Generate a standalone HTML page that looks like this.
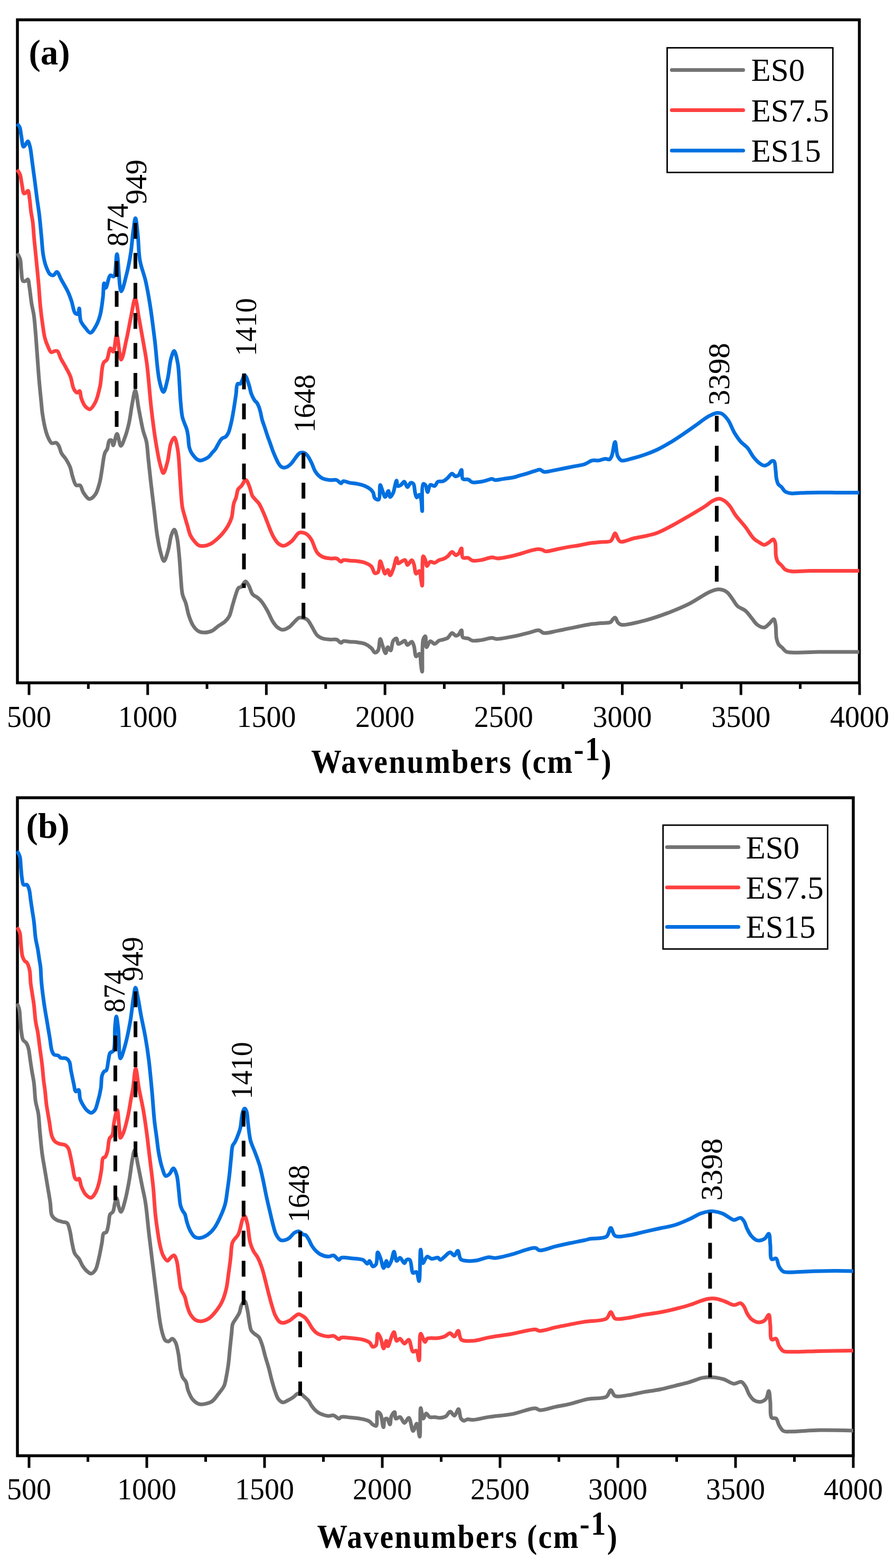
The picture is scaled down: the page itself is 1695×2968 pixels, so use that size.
<!DOCTYPE html>
<html><head><meta charset="utf-8"><title>FTIR spectra</title>
<style>html,body{margin:0;padding:0;background:#fff;} body{width:1695px;height:2968px;overflow:hidden;}</style>
</head><body>
<svg width="1695" height="2968" viewBox="0 0 1695 2968" style="display:block">
<rect width="1695" height="2968" fill="#fff"/>
<rect x="33" y="37.5" width="1594.5" height="1255.0" fill="none" stroke="#000" stroke-width="5.5"/>
<path d="M32.5,479.3 C32.5,479.3 36.9,486.2 38.2,490.7 C39.9,496.4 39.4,504.4 40.3,511.3 C41.2,518.2 40.8,529.6 43.4,531.9 C44.7,533.0 47.0,532.4 48.5,531.9 C50.1,531.4 51.6,528.4 52.7,528.8 C54.6,529.5 54.8,538.2 55.8,544.2 C57.2,552.7 58.4,565.8 59.9,575.1 C61.2,582.7 62.9,588.2 64.0,595.8 C65.4,605.0 66.1,615.8 67.1,626.7 C68.2,638.8 68.9,651.0 70.0,665.0 C71.3,682.1 72.8,704.9 74.3,722.0 C75.5,736.0 76.9,748.8 78.0,760.0 C78.9,768.9 79.2,775.5 80.5,784.0 C82.0,793.7 84.3,806.7 86.6,815.0 C88.2,820.8 89.7,825.4 91.8,829.6 C93.6,833.2 95.3,837.7 98.0,838.9 C100.3,840.0 104.0,837.1 106.2,838.0 C108.4,838.9 109.9,841.4 111.4,844.0 C113.5,847.6 114.2,853.8 116.5,858.0 C118.7,862.1 122.2,864.9 124.8,869.0 C127.7,873.7 130.9,879.3 133.0,884.7 C135.0,890.0 135.4,895.7 137.2,901.2 C139.1,907.0 141.1,916.5 144.4,918.7 C146.4,920.1 149.6,917.4 151.6,918.7 C154.5,920.5 155.0,927.9 157.8,932.1 C160.8,936.6 165.1,944.1 169.1,944.5 C172.7,944.9 177.3,940.3 180.4,936.2 C184.4,930.9 186.6,921.2 188.7,913.6 C190.7,906.1 191.5,898.8 192.8,890.9 C194.2,882.3 195.6,870.3 196.9,864.1 C197.6,860.7 198.0,858.8 199.0,856.4 C200.0,854.1 201.8,852.7 203.0,850.0 C204.8,845.9 204.9,835.5 207.2,833.7 C208.3,832.8 210.2,832.9 211.3,833.7 C213.0,834.9 213.2,843.0 214.4,843.0 C216.3,843.0 219.2,821.3 221.6,821.3 C224.0,821.3 226.2,843.8 228.9,844.0 C231.1,844.2 233.8,835.3 236.0,829.6 C239.0,821.7 242.0,811.0 244.3,800.7 C246.9,789.2 248.3,774.8 250.5,763.7 C252.3,754.6 254.3,739.0 256.2,739.0 C258.4,739.0 260.4,761.9 262.8,774.0 C265.4,787.1 268.2,803.7 271.0,815.0 C273.0,823.2 275.7,827.9 277.3,835.8 C279.3,845.7 279.7,858.0 281.0,870.0 C282.4,883.2 283.8,896.9 285.5,911.5 C287.4,927.7 289.6,945.8 291.7,963.0 C293.8,980.2 295.5,999.5 297.9,1014.5 C299.8,1026.2 301.6,1036.9 304.1,1045.5 C306.0,1052.0 308.3,1062.0 310.6,1062.0 C313.1,1062.0 316.3,1048.9 318.5,1041.3 C321.1,1032.6 322.1,1019.5 324.7,1012.5 C326.3,1008.2 328.6,1002.3 330.2,1002.5 C332.2,1002.7 333.9,1011.7 335.3,1018.0 C337.4,1027.2 338.3,1040.8 339.5,1053.0 C340.8,1066.2 341.4,1081.5 342.5,1094.2 C343.5,1105.2 343.6,1116.5 345.6,1125.1 C347.1,1131.6 349.9,1135.5 351.8,1141.6 C354.1,1149.0 355.4,1158.8 358.0,1166.4 C360.3,1173.1 362.8,1179.9 366.2,1184.9 C369.1,1189.2 372.7,1193.2 376.5,1195.2 C379.7,1196.9 383.1,1197.3 386.8,1197.3 C391.2,1197.3 396.9,1196.2 401.3,1194.2 C405.8,1192.1 409.4,1187.8 413.6,1184.9 C417.7,1182.0 422.5,1179.9 426.0,1176.7 C429.3,1173.7 432.0,1170.7 434.2,1166.4 C437.1,1160.9 438.3,1152.7 440.4,1145.8 C442.5,1138.9 444.5,1131.1 446.6,1125.1 C448.3,1120.4 449.5,1115.1 451.8,1112.8 C453.3,1111.3 455.2,1112.0 456.9,1110.7 C459.6,1108.7 462.6,1100.4 465.1,1100.4 C467.3,1100.4 469.3,1105.3 471.3,1108.7 C473.9,1113.1 475.2,1121.2 478.5,1125.1 C481.1,1128.2 484.9,1128.9 487.8,1131.3 C490.8,1133.7 493.4,1136.2 496.1,1139.6 C499.6,1144.0 503.1,1150.1 506.4,1156.0 C510.0,1162.4 513.2,1171.1 516.7,1176.7 C519.4,1180.9 521.7,1184.4 524.9,1187.0 C527.9,1189.4 531.6,1192.0 535.2,1192.1 C539.1,1192.2 543.9,1189.5 547.6,1187.0 C551.5,1184.4 554.6,1179.8 557.9,1176.7 C560.7,1174.0 563.1,1170.6 566.1,1169.5 C568.7,1168.5 571.7,1168.9 574.4,1169.5 C577.2,1170.2 580.2,1171.4 582.6,1173.6 C585.5,1176.2 587.4,1180.7 590.0,1184.9 C593.3,1190.1 596.5,1198.4 600.6,1202.4 C603.7,1205.5 607.0,1207.1 610.9,1208.5 C615.2,1210.0 620.7,1210.3 625.3,1210.6 C629.6,1210.9 634.1,1209.4 637.7,1210.6 C640.9,1211.7 643.7,1216.8 646.0,1216.8 C647.6,1216.8 648.2,1214.2 650.0,1213.7 C652.9,1212.8 658.1,1214.4 662.4,1214.7 C667.0,1215.1 672.0,1215.1 676.8,1215.8 C681.6,1216.5 686.8,1216.9 691.3,1218.8 C695.8,1220.7 700.4,1224.1 703.6,1227.1 C706.3,1229.6 707.5,1234.9 709.8,1235.3 C711.7,1235.6 714.4,1233.6 716.0,1231.2 C718.7,1227.1 718.5,1209.7 720.1,1209.6 C721.3,1209.5 722.7,1216.8 724.2,1220.9 C726.0,1225.7 728.6,1236.4 730.4,1236.4 C731.9,1236.4 732.7,1225.3 734.5,1225.0 C736.0,1224.7 738.2,1231.5 739.7,1231.2 C742.0,1230.7 742.1,1216.5 744.8,1212.7 C746.5,1210.4 749.5,1208.0 751.0,1208.5 C752.8,1209.1 752.1,1217.9 754.1,1218.8 C755.8,1219.6 759.1,1216.9 761.3,1215.8 C763.2,1214.8 764.9,1212.3 766.5,1212.7 C768.5,1213.2 769.4,1220.5 771.6,1220.9 C773.9,1221.3 777.8,1214.2 779.9,1214.7 C781.9,1215.2 782.8,1219.6 784.0,1223.0 C785.7,1228.0 785.6,1241.6 788.1,1242.5 C789.7,1243.1 792.8,1236.8 794.3,1237.4 C796.9,1238.4 796.4,1253.8 797.4,1260.0 C798.1,1264.5 798.9,1271.4 799.5,1271.4 C800.8,1271.3 798.4,1220.2 801.5,1210.6 C802.6,1207.2 804.6,1204.2 805.6,1204.4 C807.3,1204.8 805.7,1224.5 807.7,1225.0 C809.3,1225.4 812.1,1214.3 814.9,1213.7 C817.3,1213.2 820.4,1218.9 823.1,1218.8 C825.9,1218.7 828.5,1214.1 831.4,1212.7 C834.0,1211.5 836.9,1211.5 839.6,1210.6 C842.4,1209.7 845.3,1209.3 847.9,1207.5 C850.9,1205.4 853.3,1198.5 856.1,1198.2 C858.5,1197.9 861.0,1203.1 863.3,1203.4 C865.1,1203.6 866.9,1202.6 868.5,1201.3 C870.6,1199.6 872.7,1192.7 874.0,1193.0 C875.5,1193.3 874.0,1203.9 876.5,1206.4 C878.6,1208.6 883.4,1207.4 886.5,1208.5 C889.4,1209.5 891.4,1211.9 894.7,1212.6 C899.2,1213.5 905.4,1212.3 911.2,1211.6 C917.7,1210.8 926.5,1207.4 931.8,1207.5 C935.2,1207.6 936.6,1209.3 940.1,1209.5 C945.8,1209.8 955.4,1207.6 962.7,1206.4 C969.7,1205.2 976.5,1203.8 983.3,1202.3 C990.2,1200.8 997.4,1198.8 1003.9,1197.2 C1009.7,1195.7 1015.8,1192.4 1020.4,1193.0 C1024.1,1193.5 1025.7,1197.5 1029.7,1198.2 C1036.0,1199.3 1047.4,1195.6 1055.5,1194.1 C1062.8,1192.8 1069.2,1191.3 1076.1,1189.9 C1083.0,1188.5 1089.8,1187.2 1096.7,1185.8 C1103.6,1184.4 1110.4,1182.7 1117.3,1181.7 C1124.1,1180.7 1131.2,1180.3 1137.9,1179.6 C1144.2,1178.9 1152.7,1179.7 1156.4,1177.6 C1158.6,1176.4 1159.0,1173.8 1160.5,1172.4 C1161.9,1171.1 1163.8,1168.8 1165.2,1169.1 C1167.1,1169.5 1167.9,1175.7 1170.0,1178.0 C1171.8,1180.0 1173.1,1181.8 1176.5,1182.5 C1184.6,1184.3 1207.2,1178.0 1221.8,1174.3 C1236.0,1170.7 1249.4,1166.0 1263.0,1160.9 C1276.8,1155.7 1290.7,1150.1 1304.2,1143.4 C1318.2,1136.5 1334.6,1124.1 1345.5,1119.7 C1352.0,1117.1 1356.6,1115.4 1361.9,1115.6 C1366.9,1115.8 1372.3,1117.8 1376.4,1120.7 C1380.6,1123.6 1383.3,1128.7 1386.7,1133.1 C1390.2,1137.7 1392.8,1143.7 1397.0,1147.5 C1401.1,1151.2 1407.1,1152.2 1411.4,1155.8 C1416.0,1159.6 1419.9,1165.6 1423.8,1170.2 C1427.4,1174.4 1430.0,1179.6 1434.1,1182.5 C1438.0,1185.3 1443.5,1188.3 1447.5,1187.7 C1451.3,1187.1 1454.5,1182.5 1457.6,1179.8 C1460.5,1177.3 1463.5,1171.6 1465.4,1172.0 C1467.3,1172.4 1468.0,1178.1 1468.8,1182.4 C1470.1,1189.0 1469.2,1201.4 1470.6,1208.3 C1471.6,1213.1 1472.9,1217.3 1474.9,1220.3 C1476.5,1222.7 1478.8,1223.5 1480.9,1225.5 C1483.4,1227.8 1485.6,1231.7 1488.7,1233.3 C1491.7,1234.8 1494.2,1234.7 1499.0,1235.0 C1509.6,1235.8 1531.8,1234.3 1550.8,1234.1 C1573.9,1233.9 1627.5,1234.1 1627.5,1234.1" fill="none" stroke="#737373" stroke-width="7" stroke-linejoin="round" stroke-linecap="butt"/>
<path d="M32.5,321.0 C32.5,321.0 36.8,327.3 38.2,331.3 C39.9,336.0 40.1,342.2 41.3,347.8 C42.5,353.8 43.2,365.2 45.5,366.3 C46.6,366.8 48.4,365.1 49.6,364.2 C50.9,363.3 52.1,360.7 53.0,361.0 C54.6,361.5 55.0,369.2 55.8,374.5 C57.0,381.9 57.7,393.2 58.8,401.3 C59.8,408.1 61.1,413.0 62.0,420.0 C63.1,428.8 63.5,439.1 64.5,450.0 C65.7,463.1 67.4,478.7 68.8,493.0 C70.2,507.3 71.7,521.6 73.0,536.0 C74.3,550.4 75.0,565.8 76.4,579.4 C77.6,591.6 79.1,603.3 80.7,614.0 C82.0,623.2 83.1,632.4 85.0,639.8 C86.5,645.6 88.3,650.3 90.4,654.9 C92.3,659.2 94.2,665.7 96.9,666.7 C98.8,667.4 101.2,664.9 103.3,664.6 C105.2,664.3 107.1,663.6 108.7,664.6 C111.4,666.3 112.7,673.7 115.2,678.6 C118.0,684.1 121.8,690.0 124.9,695.8 C127.9,701.5 131.1,706.7 133.5,713.0 C136.2,720.2 137.0,731.6 140.0,736.8 C141.8,740.0 144.5,743.2 146.5,743.3 C148.0,743.4 149.7,739.6 150.8,740.0 C152.7,740.7 152.3,749.3 154.0,754.0 C155.8,759.1 158.3,765.7 161.5,769.2 C164.0,771.9 167.4,775.1 170.2,774.6 C173.9,773.9 178.0,766.4 181.0,760.5 C185.0,752.6 187.2,741.4 189.6,730.4 C192.4,717.3 192.0,694.7 196.0,687.0 C197.8,683.5 200.6,683.8 202.5,680.8 C205.4,676.0 206.4,659.7 209.0,659.2 C210.6,658.9 212.8,666.1 214.4,665.7 C217.5,664.9 218.7,634.0 221.0,634.0 C223.7,634.0 226.3,680.7 229.5,680.8 C232.4,680.9 236.2,656.8 239.2,644.0 C242.4,630.3 244.9,614.7 247.8,601.0 C250.5,588.4 253.5,565.0 256.0,565.0 C258.5,565.0 260.6,588.2 263.0,601.0 C265.7,615.7 268.9,633.4 271.5,648.4 C273.9,662.0 275.9,671.7 278.0,687.2 C281.1,710.3 283.5,746.8 286.6,773.5 C289.3,796.6 292.1,818.9 295.3,838.2 C297.9,854.1 300.8,870.9 303.9,881.3 C305.7,887.4 307.5,895.5 309.5,895.5 C311.9,895.5 315.1,881.8 317.3,873.5 C320.0,863.4 320.6,847.1 323.7,839.0 C325.5,834.2 328.3,827.9 330.2,828.2 C332.9,828.6 335.0,842.3 336.7,851.9 C339.2,866.1 339.6,887.8 341.0,905.8 C342.4,923.8 343.1,946.5 345.3,959.7 C346.6,967.5 348.4,972.0 350.0,978.0 C351.6,983.8 353.3,989.3 355.0,995.0 C356.7,1000.7 357.9,1007.2 360.0,1012.0 C361.8,1015.9 363.6,1018.9 366.2,1022.1 C369.0,1025.7 372.9,1030.6 376.5,1032.4 C379.2,1033.7 381.7,1033.7 384.8,1033.5 C389.0,1033.2 394.6,1031.7 399.2,1029.3 C404.3,1026.7 409.3,1022.0 413.6,1018.0 C417.6,1014.3 421.0,1010.4 424.2,1006.3 C427.3,1002.4 430.1,998.4 432.5,994.0 C435.0,989.5 437.1,985.2 438.7,979.5 C440.8,972.0 441.0,959.5 442.8,952.7 C444.0,948.4 445.6,946.3 446.9,942.4 C448.4,937.6 448.8,930.0 451.0,926.0 C452.6,923.2 455.1,922.3 457.2,919.8 C459.9,916.7 463.0,908.2 465.5,908.4 C468.1,908.6 470.7,917.0 472.7,921.8 C474.8,926.9 475.5,934.0 477.8,938.3 C479.5,941.6 481.9,943.6 484.0,946.0 C486.0,948.3 488.2,949.8 490.2,952.7 C493.1,956.8 495.8,963.3 498.4,969.2 C501.3,975.6 503.8,982.6 506.7,989.8 C509.9,997.7 513.1,1007.5 517.0,1014.5 C520.1,1020.2 523.4,1025.9 527.3,1029.0 C530.4,1031.4 533.9,1033.4 537.6,1033.1 C542.1,1032.8 547.5,1028.5 552.0,1024.8 C557.2,1020.6 561.8,1010.5 566.4,1008.4 C569.2,1007.1 572.1,1007.8 574.7,1008.4 C577.3,1009.0 579.7,1010.2 582.0,1012.0 C584.9,1014.3 587.4,1017.7 590.0,1022.0 C593.7,1028.1 596.3,1040.3 600.6,1045.8 C603.7,1049.7 606.9,1052.1 610.9,1054.0 C615.1,1056.0 620.7,1056.6 625.3,1057.1 C629.6,1057.6 634.1,1055.9 637.7,1057.1 C640.9,1058.2 643.7,1063.3 646.0,1063.3 C647.6,1063.3 648.2,1060.7 650.0,1060.2 C652.9,1059.3 658.1,1060.9 662.4,1061.2 C667.0,1061.5 672.0,1061.5 676.8,1062.2 C681.6,1062.9 686.8,1063.6 691.3,1065.3 C695.7,1067.0 700.5,1069.2 703.6,1072.5 C706.6,1075.8 707.2,1083.8 709.8,1084.9 C711.6,1085.6 714.4,1084.6 716.0,1082.8 C718.9,1079.5 718.4,1062.4 720.1,1062.2 C721.3,1062.1 722.8,1068.8 724.2,1072.5 C725.8,1076.7 727.4,1085.7 729.4,1085.9 C730.9,1086.1 733.0,1078.5 734.5,1078.7 C736.2,1078.9 737.1,1088.9 738.7,1089.0 C740.5,1089.1 742.9,1081.4 744.8,1076.7 C747.1,1070.8 749.3,1056.1 751.0,1056.1 C752.2,1056.1 752.2,1065.6 754.1,1066.4 C755.8,1067.1 758.9,1063.3 761.3,1062.2 C763.4,1061.3 765.9,1059.5 767.5,1060.2 C769.5,1061.1 769.7,1069.2 771.6,1069.5 C773.7,1069.8 777.8,1059.9 779.9,1060.2 C781.7,1060.4 782.8,1065.1 784.0,1068.4 C785.7,1073.1 785.7,1085.1 788.1,1085.9 C789.7,1086.4 792.8,1080.3 794.3,1080.8 C796.5,1081.6 796.5,1092.3 797.4,1097.3 C798.2,1101.4 798.9,1108.6 799.5,1108.6 C800.8,1108.5 798.8,1053.7 801.5,1053.0 C802.6,1052.7 804.5,1057.4 805.6,1060.2 C807.0,1063.5 807.1,1071.2 808.7,1071.5 C810.2,1071.8 812.3,1064.2 814.9,1063.3 C817.2,1062.5 820.4,1065.7 823.1,1065.3 C826.0,1064.9 828.5,1061.4 831.4,1060.2 C834.1,1059.1 836.9,1059.2 839.6,1058.1 C842.5,1056.9 845.3,1055.1 847.9,1053.0 C850.8,1050.7 853.4,1044.8 856.1,1044.7 C858.5,1044.6 861.0,1050.7 863.3,1050.9 C865.1,1051.1 866.9,1049.4 868.5,1047.8 C870.6,1045.6 872.7,1037.8 874.0,1038.0 C875.6,1038.3 873.6,1052.9 876.5,1055.5 C878.7,1057.5 883.4,1055.0 886.5,1056.0 C889.5,1056.9 891.3,1060.2 894.7,1061.1 C899.1,1062.2 905.4,1061.0 911.2,1060.1 C917.7,1059.1 926.1,1055.1 931.8,1055.0 C935.8,1054.9 938.1,1056.9 942.1,1057.0 C947.8,1057.1 955.9,1055.3 962.7,1053.9 C969.6,1052.5 976.5,1050.7 983.3,1048.8 C990.2,1046.9 997.6,1044.2 1003.9,1042.6 C1009.1,1041.3 1014.2,1039.7 1018.4,1039.5 C1021.5,1039.4 1024.1,1039.8 1026.6,1040.5 C1028.9,1041.2 1030.0,1043.2 1032.8,1043.6 C1037.9,1044.3 1048.1,1040.9 1055.5,1039.5 C1062.5,1038.2 1069.2,1036.6 1076.1,1035.4 C1083.0,1034.2 1089.8,1033.5 1096.7,1032.3 C1103.6,1031.1 1110.4,1029.2 1117.3,1028.2 C1124.1,1027.2 1131.2,1026.8 1137.9,1026.1 C1144.2,1025.4 1152.7,1026.4 1156.4,1024.1 C1158.7,1022.7 1159.2,1020.2 1160.5,1017.9 C1162.0,1015.4 1163.0,1009.7 1164.8,1009.6 C1167.3,1009.5 1169.4,1022.9 1174.4,1024.9 C1180.4,1027.4 1190.4,1021.2 1200.0,1019.0 C1212.4,1016.2 1228.8,1014.3 1242.4,1009.5 C1256.0,1004.7 1270.4,996.0 1281.6,990.0 C1290.2,985.4 1296.1,981.8 1304.2,977.0 C1313.7,971.4 1326.9,963.8 1335.2,958.4 C1341.0,954.6 1344.8,950.5 1349.6,948.1 C1353.7,946.0 1358.0,943.9 1361.9,944.0 C1365.5,944.1 1369.0,946.0 1372.2,948.1 C1375.9,950.5 1379.3,954.4 1382.5,958.4 C1386.2,963.1 1388.6,969.1 1392.8,974.9 C1397.9,981.9 1405.5,989.6 1411.4,997.1 C1417.2,1004.5 1422.5,1014.6 1427.9,1019.8 C1431.5,1023.3 1435.1,1025.1 1438.6,1027.1 C1441.6,1028.8 1444.4,1031.4 1447.3,1031.4 C1450.2,1031.4 1453.1,1028.8 1455.9,1027.1 C1458.8,1025.3 1462.4,1020.5 1464.5,1021.0 C1466.2,1021.4 1467.1,1024.2 1468.0,1027.1 C1469.7,1032.6 1468.4,1046.4 1469.7,1053.0 C1470.5,1057.3 1471.3,1060.4 1473.1,1063.3 C1474.8,1066.1 1477.7,1067.8 1480.0,1070.2 C1482.4,1072.7 1484.0,1076.1 1487.0,1078.0 C1490.2,1080.0 1493.9,1080.8 1499.0,1081.4 C1507.5,1082.5 1519.2,1080.8 1533.5,1080.6 C1557.1,1080.3 1627.5,1080.6 1627.5,1080.6" fill="none" stroke="#FF4040" stroke-width="7" stroke-linejoin="round" stroke-linecap="butt"/>
<path d="M32.5,234.4 C32.5,234.4 36.0,237.9 37.2,240.6 C39.0,244.6 39.2,251.2 40.3,257.0 C41.6,263.5 42.2,277.0 44.4,277.7 C45.5,278.0 47.2,275.2 48.5,273.6 C50.0,271.8 51.4,267.3 52.7,267.4 C54.3,267.6 55.6,273.3 56.8,277.7 C58.7,284.8 59.6,296.3 61.0,306.5 C62.6,318.1 64.4,331.6 66.0,343.6 C67.5,354.9 68.8,366.0 70.2,376.6 C71.5,386.6 73.0,395.0 74.3,405.5 C75.8,418.0 77.1,433.5 78.4,446.7 C79.6,459.0 80.1,471.9 81.8,482.3 C83.2,490.5 84.7,497.6 87.1,504.0 C89.2,509.6 91.6,516.4 94.7,519.0 C96.7,520.7 99.2,521.7 101.2,521.2 C103.5,520.6 105.5,514.4 107.6,514.7 C110.5,515.1 113.2,524.2 116.3,529.8 C120.2,536.8 125.8,546.1 129.2,553.5 C132.0,559.6 133.6,564.7 135.7,570.8 C138.0,577.5 139.0,588.9 142.1,592.3 C143.7,594.0 146.2,595.2 147.5,594.5 C149.3,593.6 149.3,583.7 150.1,583.7 C151.2,583.8 150.5,600.9 152.9,607.4 C154.8,612.7 158.3,616.5 161.5,620.4 C164.5,624.0 168.1,630.2 171.3,630.0 C174.6,629.8 178.2,623.0 181.0,618.2 C184.5,612.3 187.4,604.8 189.6,596.6 C192.3,586.6 193.7,572.7 195.0,562.0 C196.1,552.8 195.7,536.5 197.1,536.3 C197.9,536.2 199.1,544.9 200.4,544.9 C202.6,544.9 205.3,523.0 209.0,521.2 C210.9,520.3 213.7,524.4 215.5,523.3 C219.9,520.5 219.5,481.0 221.5,481.0 C224.1,481.0 225.5,551.0 229.5,551.4 C232.2,551.7 236.3,532.3 239.2,521.2 C242.6,508.2 245.6,492.0 247.8,478.0 C249.8,465.0 250.4,451.6 252.0,440.0 C253.4,430.2 255.1,413.0 256.5,413.0 C258.1,413.0 259.7,433.2 261.0,445.0 C262.6,459.4 262.3,478.0 265.0,493.1 C267.5,506.9 272.7,518.3 275.8,532.0 C279.2,546.9 281.8,562.3 284.5,579.4 C287.6,599.3 290.3,621.7 293.1,644.1 C296.1,668.3 297.7,702.0 301.7,719.6 C303.9,729.4 306.9,742.0 309.5,742.0 C312.1,742.0 315.1,727.2 317.3,718.2 C320.1,706.9 320.9,689.2 323.7,679.4 C325.5,673.1 327.8,664.2 329.8,664.3 C332.2,664.4 335.1,679.4 336.7,688.0 C338.5,697.8 338.7,708.7 339.5,720.0 C340.4,732.6 340.9,747.6 342.0,760.0 C343.0,770.7 343.7,782.2 345.5,790.0 C346.7,795.2 348.6,798.9 350.0,802.8 C351.2,806.1 352.5,808.6 353.5,812.0 C354.7,816.0 355.4,820.5 356.2,825.5 C357.1,831.6 357.0,840.4 358.3,846.0 C359.2,850.0 360.5,853.1 362.0,856.0 C363.3,858.5 364.8,860.4 366.5,862.5 C368.2,864.6 369.9,866.9 372.0,868.5 C374.0,870.0 376.5,871.6 378.9,871.8 C381.5,872.0 384.3,870.6 387.0,869.5 C389.9,868.3 393.0,866.6 395.4,864.6 C397.6,862.7 399.0,860.3 401.0,858.0 C403.1,855.5 405.8,853.0 407.8,850.2 C409.8,847.4 411.3,844.0 413.0,841.0 C414.7,838.2 416.3,834.8 418.0,832.7 C419.3,831.1 420.5,829.9 422.0,829.0 C423.3,828.2 424.9,828.5 426.3,827.5 C428.4,826.0 430.9,822.4 432.5,819.3 C434.2,816.0 435.0,811.8 436.0,808.0 C437.0,804.2 437.8,801.1 438.7,796.6 C440.0,790.4 441.5,781.9 442.8,774.0 C444.2,765.5 445.6,755.6 446.9,747.2 C448.0,739.9 447.4,728.8 450.0,726.5 C451.3,725.4 453.7,727.3 455.1,726.5 C456.9,725.4 457.7,721.6 459.0,719.0 C460.4,716.1 461.9,710.1 463.4,710.0 C464.4,709.9 465.6,712.3 466.5,714.0 C467.7,716.2 468.6,719.4 469.6,722.4 C470.8,725.9 472.0,730.2 473.0,734.0 C474.0,737.7 474.4,741.3 475.8,745.0 C477.3,749.1 479.7,754.2 481.9,757.4 C483.5,759.8 485.6,760.9 487.0,763.0 C488.4,765.1 489.2,767.2 490.2,769.8 C491.4,773.0 492.5,777.1 493.5,781.0 C494.6,785.3 495.2,790.0 496.4,794.5 C497.7,799.0 499.4,803.2 501.0,808.0 C502.8,813.4 504.8,820.0 506.7,825.5 C508.5,830.6 510.3,835.2 512.0,840.0 C513.7,844.8 515.3,849.8 517.0,854.3 C518.6,858.4 520.3,862.2 522.0,866.0 C523.7,869.7 525.4,874.0 527.3,877.0 C528.8,879.4 530.2,881.6 532.0,883.0 C533.6,884.2 535.6,885.1 537.6,885.2 C539.9,885.3 542.7,884.3 545.0,883.0 C547.5,881.6 549.9,879.3 552.0,877.0 C554.2,874.6 556.0,871.7 558.0,869.0 C560.1,866.2 562.5,862.5 564.4,860.5 C565.7,859.1 566.6,858.2 568.0,857.5 C569.4,856.8 571.1,856.4 572.6,856.4 C574.1,856.4 575.6,856.7 577.0,857.5 C578.9,858.5 580.7,860.4 582.5,862.7 C585.1,866.1 588.0,872.0 590.3,876.8 C592.6,881.5 594.2,887.2 596.5,891.2 C598.4,894.5 600.3,897.1 602.7,899.5 C605.1,901.9 607.6,904.1 610.9,905.6 C614.9,907.4 620.7,908.2 625.3,908.7 C629.6,909.2 634.1,907.5 637.7,908.7 C640.9,909.8 643.8,915.1 646.0,914.9 C647.6,914.8 648.1,911.3 650.0,910.8 C652.9,910.0 658.1,913.1 662.4,913.9 C667.0,914.8 672.0,914.9 676.8,915.9 C681.7,916.9 687.0,918.1 691.3,920.0 C695.2,921.7 698.9,923.9 701.6,926.2 C703.8,928.1 705.4,929.9 706.7,932.4 C708.2,935.3 707.8,940.5 709.8,942.7 C711.5,944.6 715.2,946.8 717.0,945.8 C720.3,943.9 718.4,918.2 720.1,918.0 C721.2,917.9 722.7,924.7 724.2,928.3 C725.8,932.2 727.5,940.6 729.4,940.7 C731.3,940.8 734.0,929.1 735.6,929.3 C737.1,929.5 737.1,940.4 738.7,940.7 C740.2,941.0 743.3,935.6 744.8,932.4 C746.5,928.8 746.8,923.9 747.9,920.0 C748.9,916.4 750.1,909.8 751.0,909.8 C751.9,909.8 751.3,919.0 753.1,920.0 C754.5,920.8 757.4,919.2 759.3,918.0 C761.5,916.6 763.6,911.6 765.5,911.8 C767.7,912.1 769.5,922.0 771.6,922.1 C773.6,922.2 775.6,914.5 777.8,913.9 C779.4,913.4 781.7,914.3 783.0,915.9 C785.3,918.6 784.9,927.7 786.1,932.4 C787.0,936.0 787.7,941.3 789.2,941.7 C790.5,942.0 793.0,936.2 794.3,936.5 C795.8,936.8 796.6,941.3 797.4,944.8 C798.7,950.4 798.9,967.5 799.5,967.5 C800.4,967.5 797.8,918.2 801.5,916.0 C802.6,915.3 804.4,916.7 805.6,918.0 C807.6,920.4 808.3,931.4 809.8,931.4 C811.4,931.4 812.1,919.4 814.9,918.0 C817.0,916.9 820.8,920.8 823.1,920.0 C825.7,919.1 826.6,913.3 829.3,911.8 C832.1,910.3 836.5,912.0 839.6,910.8 C842.7,909.6 845.2,906.9 847.9,904.6 C850.7,902.1 853.5,896.5 856.1,896.4 C858.3,896.3 860.1,901.1 862.3,901.5 C864.3,901.9 866.7,901.0 868.5,899.5 C870.8,897.6 872.7,889.3 874.0,889.5 C875.6,889.8 873.7,903.9 876.5,906.6 C878.7,908.7 883.4,906.5 886.5,907.6 C889.5,908.6 891.3,911.9 894.7,912.8 C899.1,913.9 906.1,912.6 911.2,911.8 C915.7,911.1 919.9,909.6 923.6,908.7 C926.6,907.9 929.3,906.5 931.8,906.6 C934.0,906.7 935.5,908.5 938.0,908.7 C941.8,909.0 947.2,907.4 952.4,906.6 C958.7,905.7 967.3,904.8 973.0,903.5 C977.1,902.6 979.6,901.5 983.3,900.4 C987.7,899.1 992.8,897.8 997.8,896.3 C1003.1,894.7 1009.6,892.4 1014.2,891.1 C1017.4,890.2 1019.8,888.8 1022.5,889.1 C1025.3,889.4 1027.5,892.7 1030.7,893.2 C1034.8,893.9 1040.0,892.0 1045.2,891.1 C1051.5,890.0 1058.9,888.4 1065.8,887.0 C1072.7,885.6 1079.5,884.3 1086.4,882.9 C1093.3,881.5 1100.9,880.9 1107.0,878.8 C1112.4,877.0 1116.6,872.7 1121.4,871.6 C1125.6,870.6 1129.7,872.1 1133.8,871.6 C1137.9,871.1 1142.4,868.7 1146.1,868.5 C1149.1,868.3 1152.3,870.5 1154.4,869.5 C1156.4,868.6 1157.2,866.2 1158.5,863.3 C1160.9,857.6 1162.9,836.5 1164.8,836.5 C1166.7,836.5 1166.8,856.9 1169.7,863.1 C1171.6,867.1 1173.5,870.4 1177.0,871.6 C1181.6,873.2 1189.7,869.6 1196.5,868.0 C1204.2,866.1 1212.8,863.5 1220.8,860.7 C1229.0,857.9 1237.1,854.8 1245.1,851.0 C1253.3,847.1 1261.4,842.4 1269.4,837.6 C1277.6,832.7 1285.6,827.2 1293.7,821.8 C1301.8,816.3 1309.9,810.5 1318.0,804.8 C1326.1,799.1 1335.0,791.8 1342.3,787.8 C1347.6,784.9 1352.4,782.3 1356.9,781.7 C1360.4,781.2 1363.5,781.4 1366.7,782.9 C1370.9,784.9 1375.1,789.9 1378.8,795.0 C1383.4,801.4 1386.6,812.1 1391.0,819.4 C1394.8,825.7 1398.8,831.6 1403.1,836.4 C1406.9,840.7 1411.5,842.9 1415.3,847.3 C1419.7,852.4 1423.2,860.4 1427.4,865.6 C1431.0,870.0 1434.9,874.3 1438.6,877.0 C1441.5,879.1 1444.4,881.2 1447.3,881.3 C1450.2,881.4 1453.4,879.3 1455.9,877.8 C1458.2,876.4 1459.9,873.1 1461.9,872.6 C1463.4,872.2 1465.1,872.4 1466.2,873.5 C1468.3,875.7 1468.1,883.7 1468.8,889.0 C1469.6,894.6 1469.5,901.3 1470.6,906.3 C1471.4,910.2 1472.2,913.9 1474.0,916.6 C1475.5,918.9 1478.0,919.7 1480.0,921.8 C1482.3,924.2 1484.0,928.4 1487.0,930.4 C1490.2,932.5 1494.6,933.4 1499.0,933.9 C1504.2,934.5 1509.5,933.3 1516.3,933.0 C1525.8,932.6 1539.3,932.3 1550.8,932.2 C1562.3,932.1 1573.2,932.4 1585.3,932.5 C1598.7,932.6 1627.5,932.5 1627.5,932.5" fill="none" stroke="#0070E0" stroke-width="7" stroke-linejoin="round" stroke-linecap="butt"/>
<line x1="221" y1="494" x2="221" y2="808" stroke="#000" stroke-width="7" stroke-dasharray="30 26.8" stroke-dashoffset="0"/>
<line x1="256.4" y1="422" x2="256.4" y2="737" stroke="#000" stroke-width="7" stroke-dasharray="30 26.8" stroke-dashoffset="0"/>
<line x1="462" y1="707" x2="462" y2="1113" stroke="#000" stroke-width="7" stroke-dasharray="30 26.8" stroke-dashoffset="0"/>
<line x1="574.7" y1="857" x2="574.7" y2="1171" stroke="#000" stroke-width="7" stroke-dasharray="30 26.8" stroke-dashoffset="0"/>
<line x1="1357.4" y1="787" x2="1357.4" y2="1115" stroke="#000" stroke-width="7" stroke-dasharray="30 26.8" stroke-dashoffset="0"/>
<text x="0" y="0" transform="translate(242.2,466.6) rotate(-90) scale(0.972,1)" font-family="'Liberation Serif','Times New Roman',serif" font-size="56">874</text>
<text x="0" y="0" transform="translate(276.9,386.8) rotate(-90) scale(1.010,1)" font-family="'Liberation Serif','Times New Roman',serif" font-size="56">949</text>
<text x="0" y="0" transform="translate(485.0,674.2) rotate(-90) scale(0.983,1)" font-family="'Liberation Serif','Times New Roman',serif" font-size="56">1410</text>
<text x="0" y="0" transform="translate(595.8,819.0) rotate(-90) scale(0.985,1)" font-family="'Liberation Serif','Times New Roman',serif" font-size="56">1648</text>
<text x="0" y="0" transform="translate(1381.2,767.2) rotate(-90) scale(1.056,1)" font-family="'Liberation Serif','Times New Roman',serif" font-size="56">3398</text>
<line x1="55.0" y1="1295.0" x2="55.0" y2="1315.5" stroke="#000" stroke-width="5"/>
<text x="55.0" y="1376" text-anchor="middle" font-family="'Liberation Serif','Times New Roman',serif" font-size="56">500</text>
<line x1="167.3" y1="1295.0" x2="167.3" y2="1304.0" stroke="#000" stroke-width="5"/>
<line x1="279.7" y1="1295.0" x2="279.7" y2="1315.5" stroke="#000" stroke-width="5"/>
<text x="279.7" y="1376" text-anchor="middle" font-family="'Liberation Serif','Times New Roman',serif" font-size="56">1000</text>
<line x1="392.0" y1="1295.0" x2="392.0" y2="1304.0" stroke="#000" stroke-width="5"/>
<line x1="504.4" y1="1295.0" x2="504.4" y2="1315.5" stroke="#000" stroke-width="5"/>
<text x="504.4" y="1376" text-anchor="middle" font-family="'Liberation Serif','Times New Roman',serif" font-size="56">1500</text>
<line x1="616.8" y1="1295.0" x2="616.8" y2="1304.0" stroke="#000" stroke-width="5"/>
<line x1="729.1" y1="1295.0" x2="729.1" y2="1315.5" stroke="#000" stroke-width="5"/>
<text x="729.1" y="1376" text-anchor="middle" font-family="'Liberation Serif','Times New Roman',serif" font-size="56">2000</text>
<line x1="841.4" y1="1295.0" x2="841.4" y2="1304.0" stroke="#000" stroke-width="5"/>
<line x1="953.8" y1="1295.0" x2="953.8" y2="1315.5" stroke="#000" stroke-width="5"/>
<text x="953.8" y="1376" text-anchor="middle" font-family="'Liberation Serif','Times New Roman',serif" font-size="56">2500</text>
<line x1="1066.2" y1="1295.0" x2="1066.2" y2="1304.0" stroke="#000" stroke-width="5"/>
<line x1="1178.5" y1="1295.0" x2="1178.5" y2="1315.5" stroke="#000" stroke-width="5"/>
<text x="1178.5" y="1376" text-anchor="middle" font-family="'Liberation Serif','Times New Roman',serif" font-size="56">3000</text>
<line x1="1290.8" y1="1295.0" x2="1290.8" y2="1304.0" stroke="#000" stroke-width="5"/>
<line x1="1403.2" y1="1295.0" x2="1403.2" y2="1315.5" stroke="#000" stroke-width="5"/>
<text x="1403.2" y="1376" text-anchor="middle" font-family="'Liberation Serif','Times New Roman',serif" font-size="56">3500</text>
<line x1="1515.5" y1="1295.0" x2="1515.5" y2="1304.0" stroke="#000" stroke-width="5"/>
<line x1="1627.9" y1="1295.0" x2="1627.9" y2="1315.5" stroke="#000" stroke-width="5"/>
<text x="1627.9" y="1376" text-anchor="middle" font-family="'Liberation Serif','Times New Roman',serif" font-size="56">4000</text>
<text x="0" y="0" transform="translate(589.3,1463.3) scale(0.9,1)" font-family="'Liberation Serif','Times New Roman',serif" font-size="64" font-weight="bold" letter-spacing="2.6">Wavenumbers (cm<tspan font-size="63" dy="-24.7">-1</tspan><tspan dy="24.7">)</tspan></text>
<text x="54.5" y="121.8" font-family="'Liberation Serif','Times New Roman',serif" font-size="67" font-weight="bold">(a)</text>
<rect x="1263.5" y="90.5" width="313.79999999999995" height="235.89999999999998" fill="#fff" stroke="#000" stroke-width="2.8"/>
<line x1="1272.3" y1="132.5" x2="1407.5" y2="132.5" stroke="#737373" stroke-width="7" stroke-linecap="round"/>
<text x="1422.5" y="153.3" font-family="'Liberation Serif','Times New Roman',serif" font-size="61">ES0</text>
<line x1="1272.3" y1="208.5" x2="1407.5" y2="208.5" stroke="#FF4040" stroke-width="7" stroke-linecap="round"/>
<text x="1422.5" y="230.2" font-family="'Liberation Serif','Times New Roman',serif" font-size="61">ES7.5</text>
<line x1="1272.3" y1="285" x2="1407.5" y2="285" stroke="#0070E0" stroke-width="7" stroke-linecap="round"/>
<text x="1422.5" y="306" font-family="'Liberation Serif','Times New Roman',serif" font-size="61">ES15</text>
<rect x="33" y="1510" width="1583" height="1245.5" fill="none" stroke="#000" stroke-width="5.5"/>
<path d="M32.5,1899.3 C32.5,1899.3 35.5,1906.2 36.5,1910.7 C37.8,1916.9 37.8,1925.9 38.5,1933.3 C39.2,1940.3 39.6,1947.7 40.6,1953.9 C41.4,1959.2 41.7,1964.8 43.7,1968.4 C45.2,1971.2 48.2,1972.0 49.9,1974.5 C51.8,1977.3 52.9,1980.7 54.0,1984.8 C55.5,1990.4 56.1,1998.6 57.1,2005.5 C58.1,2012.4 59.1,2019.0 60.2,2026.1 C61.4,2033.8 63.2,2041.3 64.3,2050.0 C65.7,2060.5 65.8,2074.4 67.4,2084.7 C68.7,2093.1 71.2,2099.0 72.5,2107.4 C74.1,2117.8 74.4,2130.3 75.6,2142.4 C76.9,2155.6 78.1,2170.9 79.8,2183.6 C81.3,2194.7 83.2,2204.2 84.9,2214.5 C86.6,2224.8 88.4,2235.2 90.1,2245.5 C91.8,2255.8 93.8,2266.7 95.2,2276.4 C96.5,2284.9 95.5,2295.0 98.3,2300.6 C100.2,2304.5 103.2,2306.8 106.5,2308.8 C110.0,2311.0 115.2,2311.9 118.9,2313.0 C121.9,2313.9 125.0,2313.1 127.1,2315.0 C130.0,2317.6 130.8,2324.1 132.3,2329.5 C134.1,2336.1 134.8,2344.8 136.4,2352.1 C137.9,2359.2 138.9,2367.2 141.6,2372.7 C143.7,2377.0 147.4,2379.3 149.8,2383.0 C152.2,2386.8 153.6,2391.6 156.0,2395.4 C158.4,2399.1 161.2,2403.0 164.2,2405.7 C166.8,2408.0 169.8,2411.0 172.5,2410.8 C175.3,2410.6 178.5,2407.0 180.7,2403.6 C183.8,2398.8 185.0,2390.6 186.9,2383.0 C189.2,2373.8 191.4,2361.0 193.1,2352.1 C194.4,2345.5 193.9,2337.5 196.2,2334.6 C197.5,2333.0 199.9,2334.1 201.3,2332.5 C203.6,2329.8 204.3,2322.5 205.5,2317.1 C206.8,2311.2 206.3,2302.4 208.5,2298.5 C209.8,2296.2 212.3,2296.3 213.7,2294.0 C216.0,2290.3 216.4,2281.1 217.8,2276.4 C218.8,2273.1 219.9,2268.0 220.9,2268.1 C222.3,2268.2 223.4,2279.9 225.0,2284.6 C226.3,2288.2 227.7,2294.0 229.2,2293.9 C231.4,2293.8 234.2,2282.1 236.4,2274.3 C239.5,2263.6 242.2,2248.4 244.6,2235.1 C247.0,2221.6 248.7,2204.5 250.8,2193.9 C252.1,2187.2 253.4,2177.5 254.9,2177.5 C256.8,2177.5 259.0,2194.3 261.1,2204.2 C263.7,2216.5 266.8,2232.7 269.3,2245.5 C271.5,2256.5 273.7,2264.6 275.5,2276.4 C278.0,2292.1 279.6,2313.4 281.7,2331.5 C283.7,2349.0 285.9,2366.8 287.9,2383.0 C289.7,2397.5 291.3,2410.5 293.0,2424.2 C294.7,2438.0 296.5,2452.4 298.2,2465.5 C299.7,2477.5 301.1,2490.0 302.7,2500.0 C304.0,2507.8 305.0,2514.2 306.8,2520.6 C308.5,2526.5 310.1,2534.3 313.0,2537.1 C314.8,2538.8 317.1,2539.5 319.2,2539.2 C321.6,2538.8 324.2,2533.7 326.4,2534.0 C328.7,2534.3 330.8,2537.9 332.5,2541.2 C335.0,2546.1 336.2,2554.2 337.7,2561.8 C339.5,2571.0 340.1,2584.4 341.8,2592.7 C343.0,2598.5 343.9,2603.1 345.9,2607.1 C347.5,2610.4 350.5,2612.0 352.1,2615.4 C354.2,2619.8 354.2,2626.5 356.2,2631.9 C358.3,2637.5 360.8,2644.0 364.5,2648.4 C367.8,2652.4 372.6,2656.2 376.8,2657.6 C380.2,2658.7 383.4,2658.2 387.1,2657.6 C391.6,2656.8 397.3,2655.4 401.6,2652.5 C406.4,2649.2 410.1,2643.0 413.9,2638.1 C417.6,2633.4 421.8,2628.8 424.2,2623.6 C426.6,2618.5 427.1,2613.2 428.4,2607.1 C429.9,2599.7 431.3,2591.1 432.5,2582.4 C433.8,2572.7 434.5,2561.6 435.6,2551.5 C436.6,2541.7 437.8,2530.8 438.7,2522.5 C439.4,2516.3 439.1,2510.8 440.7,2506.1 C442.1,2502.1 444.8,2499.2 446.9,2495.8 C449.0,2492.4 451.4,2489.4 453.1,2485.5 C455.0,2481.2 455.2,2475.0 457.2,2471.0 C458.8,2467.7 461.7,2462.5 463.4,2462.8 C465.7,2463.2 467.1,2473.1 468.5,2479.3 C470.3,2487.1 471.2,2498.9 472.7,2506.1 C473.7,2511.0 474.0,2515.2 475.8,2518.4 C477.3,2521.1 479.6,2522.6 481.9,2524.6 C484.4,2526.8 487.9,2527.9 490.2,2530.8 C493.0,2534.4 494.5,2539.9 496.4,2545.3 C498.7,2552.0 500.4,2560.6 502.5,2568.0 C504.5,2575.0 506.7,2581.4 508.7,2588.6 C510.9,2596.4 512.7,2605.5 514.9,2613.3 C516.9,2620.5 518.8,2627.7 521.1,2633.9 C523.0,2639.2 524.5,2644.8 527.3,2648.4 C529.6,2651.3 532.5,2654.1 535.5,2654.5 C538.6,2654.9 542.4,2652.1 545.8,2650.4 C549.3,2648.7 553.1,2646.4 556.1,2644.2 C558.8,2642.3 560.8,2639.0 563.3,2638.1 C565.3,2637.4 567.5,2637.4 569.5,2638.1 C572.0,2639.0 574.3,2642.1 576.7,2644.2 C579.2,2646.5 582.1,2648.5 584.4,2651.3 C586.8,2654.3 588.2,2658.4 590.6,2661.6 C593.0,2664.9 595.9,2668.4 598.8,2670.9 C601.4,2673.1 603.8,2674.6 607.1,2676.1 C611.1,2677.9 617.1,2679.8 621.5,2680.2 C625.2,2680.5 628.5,2678.5 631.8,2679.2 C635.4,2680.0 639.5,2685.4 642.1,2685.3 C643.8,2685.2 644.2,2682.8 646.2,2682.2 C650.0,2681.0 658.3,2682.7 664.8,2683.3 C672.0,2684.0 681.1,2684.9 687.5,2686.4 C692.3,2687.6 696.8,2688.7 700.0,2690.7 C702.4,2692.2 703.4,2694.8 705.5,2696.2 C707.5,2697.5 710.7,2699.9 712.4,2698.9 C715.5,2697.0 712.4,2674.0 715.1,2672.8 C716.5,2672.2 719.1,2674.5 720.6,2676.9 C723.5,2681.4 724.6,2701.6 726.1,2701.6 C727.2,2701.6 726.8,2688.8 728.8,2686.5 C729.9,2685.3 731.7,2684.7 733.0,2685.2 C735.2,2686.1 737.2,2696.4 738.5,2696.2 C740.0,2696.0 739.4,2685.1 741.2,2681.0 C742.7,2677.6 746.0,2672.5 747.4,2672.8 C748.9,2673.2 747.4,2683.9 749.5,2685.2 C751.3,2686.2 755.2,2681.6 757.7,2682.4 C760.8,2683.4 763.1,2693.3 765.9,2693.4 C768.6,2693.5 771.8,2683.3 774.2,2683.8 C777.7,2684.5 779.5,2708.3 782.4,2708.5 C784.6,2708.7 787.4,2694.6 789.3,2694.8 C791.8,2695.1 793.5,2719.6 794.8,2719.5 C796.7,2719.3 794.9,2665.4 796.8,2665.2 C797.9,2665.1 799.5,2684.9 801.6,2685.2 C803.2,2685.4 804.9,2675.8 807.1,2675.5 C809.1,2675.2 811.2,2681.3 814.0,2682.4 C816.7,2683.5 820.4,2682.2 823.6,2682.4 C826.8,2682.6 829.9,2684.0 833.2,2683.8 C836.8,2683.6 841.0,2682.9 844.2,2681.0 C847.5,2679.1 849.7,2672.2 852.5,2672.1 C855.2,2672.0 858.2,2680.0 860.7,2679.7 C863.5,2679.3 866.3,2667.0 868.3,2667.3 C870.6,2667.6 870.6,2681.5 873.1,2685.2 C874.6,2687.4 876.6,2689.0 878.6,2689.3 C880.7,2689.6 882.8,2686.9 885.4,2686.5 C888.4,2686.1 891.4,2687.8 895.7,2687.6 C903.1,2687.3 914.9,2683.8 925.9,2682.1 C939.2,2680.1 955.3,2679.3 969.9,2676.6 C984.6,2673.9 1005.0,2665.0 1013.8,2665.7 C1017.7,2666.0 1018.4,2668.8 1022.1,2669.2 C1029.0,2669.9 1042.5,2664.9 1052.3,2662.9 C1061.7,2661.0 1070.3,2659.7 1079.8,2657.4 C1090.3,2654.9 1101.4,2650.7 1112.7,2648.4 C1124.3,2646.1 1141.2,2648.2 1148.5,2643.7 C1153.2,2640.8 1153.9,2631.4 1156.7,2631.3 C1159.4,2631.2 1160.7,2640.3 1164.9,2642.3 C1170.5,2644.9 1181.3,2642.0 1189.7,2640.9 C1198.6,2639.8 1207.5,2637.1 1217.1,2635.4 C1227.5,2633.5 1239.6,2632.1 1250.0,2630.0 C1259.6,2628.0 1268.3,2625.6 1277.5,2623.3 C1286.6,2621.0 1296.0,2619.0 1304.9,2616.4 C1313.4,2613.9 1322.6,2609.7 1329.7,2608.2 C1334.9,2607.1 1339.1,2606.9 1343.4,2606.8 C1347.3,2606.7 1350.4,2606.9 1354.4,2607.4 C1359.4,2608.1 1365.3,2609.1 1370.9,2610.9 C1377.2,2612.9 1384.2,2618.8 1390.1,2619.2 C1395.0,2619.6 1400.1,2614.5 1403.8,2615.6 C1407.3,2616.6 1409.7,2621.1 1412.1,2624.7 C1414.9,2628.9 1416.1,2635.3 1419.0,2639.8 C1421.7,2644.0 1424.9,2648.5 1428.6,2650.8 C1431.9,2652.8 1436.0,2653.9 1439.6,2653.5 C1443.3,2653.1 1447.8,2651.0 1450.5,2648.0 C1453.6,2644.5 1454.6,2632.8 1456.0,2632.9 C1457.5,2633.1 1458.0,2646.0 1458.8,2653.5 C1459.8,2662.6 1457.8,2679.6 1461.5,2683.7 C1463.5,2685.8 1467.6,2683.4 1469.8,2685.1 C1472.6,2687.3 1473.0,2693.6 1475.3,2697.5 C1477.6,2701.4 1479.8,2706.4 1483.5,2708.5 C1487.2,2710.6 1491.2,2709.7 1497.3,2709.8 C1509.5,2710.1 1533.2,2707.4 1552.2,2707.1 C1572.7,2706.7 1616.0,2707.9 1616.0,2707.9" fill="none" stroke="#737373" stroke-width="7" stroke-linejoin="round" stroke-linecap="butt"/>
<path d="M32.5,1755.1 C32.5,1755.1 36.3,1761.3 37.5,1765.5 C39.1,1771.1 38.8,1778.9 39.6,1786.1 C40.5,1794.0 40.9,1804.9 42.7,1810.8 C43.8,1814.4 45.2,1817.1 46.8,1819.0 C48.0,1820.4 49.7,1820.4 50.9,1822.0 C53.0,1824.9 54.9,1830.9 56.1,1836.5 C57.6,1843.6 57.2,1853.4 58.1,1861.2 C58.9,1868.4 60.2,1874.9 61.2,1881.8 C62.2,1888.7 63.4,1894.8 64.3,1902.4 C65.5,1911.6 66.0,1924.1 67.4,1933.3 C68.5,1940.9 70.2,1946.3 71.5,1953.9 C73.0,1963.1 74.2,1974.5 75.6,1984.8 C77.0,1995.1 78.6,2005.5 79.8,2015.8 C81.0,2026.1 81.8,2038.2 82.8,2046.7 C83.5,2052.7 84.3,2056.1 85.0,2062.0 C86.0,2070.1 86.7,2081.1 88.0,2090.9 C89.4,2101.0 91.5,2111.7 93.2,2121.8 C94.9,2131.6 95.7,2143.7 98.3,2150.7 C100.0,2155.2 101.9,2158.6 104.5,2161.0 C106.8,2163.1 109.7,2164.1 112.7,2165.1 C115.9,2166.2 120.2,2165.7 123.0,2167.2 C125.6,2168.6 127.6,2170.6 129.2,2173.3 C131.3,2176.9 132.0,2182.5 133.3,2187.8 C134.8,2194.0 136.1,2201.5 137.5,2208.4 C138.9,2215.3 139.4,2224.9 141.6,2229.0 C142.7,2231.1 144.2,2232.9 145.7,2233.1 C147.0,2233.3 148.7,2230.5 149.8,2231.0 C151.9,2231.9 152.0,2240.7 153.9,2245.5 C156.0,2250.7 158.7,2257.2 162.2,2260.9 C165.1,2264.0 169.4,2267.6 172.5,2267.1 C175.6,2266.6 178.4,2261.6 180.7,2257.8 C183.4,2253.3 185.1,2247.5 186.9,2241.3 C189.1,2233.5 190.7,2223.1 192.1,2214.5 C193.4,2206.7 192.8,2195.3 195.2,2191.9 C196.3,2190.4 198.1,2191.1 199.3,2189.8 C201.1,2187.8 202.2,2183.8 203.4,2179.5 C205.2,2173.1 205.1,2160.1 207.5,2154.8 C208.9,2151.8 211.4,2151.6 212.7,2148.6 C214.9,2143.6 214.3,2133.6 215.8,2125.9 C217.3,2117.8 220.3,2101.1 221.9,2101.2 C223.9,2101.3 224.9,2128.6 226.1,2138.3 C226.9,2144.6 226.6,2153.5 228.1,2153.8 C229.5,2154.1 232.4,2147.3 234.3,2142.4 C237.3,2134.7 240.1,2122.2 242.5,2111.5 C245.0,2100.2 247.0,2086.0 248.7,2076.5 C249.9,2070.0 250.7,2066.6 251.8,2060.0 C253.4,2050.1 255.1,2023.0 257.0,2023.0 C258.9,2023.0 260.8,2047.4 263.1,2060.0 C265.6,2073.4 269.0,2087.4 271.4,2101.2 C273.8,2114.9 275.6,2127.9 277.6,2142.4 C279.8,2158.6 281.7,2176.7 283.8,2193.9 C285.9,2211.1 288.2,2228.0 290.0,2245.5 C291.8,2263.4 292.7,2284.4 294.4,2300.0 C295.7,2311.8 297.0,2321.2 298.5,2330.9 C299.8,2339.6 300.9,2347.8 302.7,2355.6 C304.4,2362.8 305.9,2370.7 308.8,2376.2 C311.1,2380.5 314.5,2386.3 317.1,2386.5 C319.2,2386.6 321.2,2382.2 323.3,2380.4 C325.3,2378.8 327.7,2375.7 329.5,2376.2 C331.7,2376.8 333.2,2382.1 334.6,2386.5 C336.7,2393.2 337.3,2404.4 338.7,2413.3 C340.1,2422.2 340.4,2432.7 342.8,2440.1 C344.6,2445.8 348.2,2449.4 350.1,2454.5 C352.0,2459.7 352.5,2465.5 354.2,2471.0 C355.9,2476.6 357.5,2482.8 360.4,2487.5 C363.1,2491.9 366.9,2496.6 370.7,2498.8 C373.9,2500.6 377.3,2501.2 381.0,2500.9 C385.4,2500.6 391.1,2498.5 395.4,2495.8 C400.1,2492.9 403.9,2488.2 407.8,2483.4 C412.2,2478.0 416.7,2471.7 420.1,2464.8 C423.7,2457.4 426.3,2448.6 428.4,2440.1 C430.5,2431.4 431.2,2422.6 432.5,2413.3 C433.9,2403.4 435.4,2392.5 436.6,2382.4 C437.8,2372.6 437.9,2359.6 439.7,2353.6 C440.6,2350.7 441.4,2349.6 442.8,2347.4 C444.8,2344.3 448.9,2340.9 451.0,2337.1 C453.0,2333.3 453.8,2329.2 455.1,2324.7 C456.6,2319.6 457.5,2312.3 459.3,2308.2 C460.5,2305.5 462.1,2301.8 463.4,2302.0 C465.3,2302.2 467.0,2310.5 468.5,2316.5 C470.7,2325.6 471.3,2342.1 473.7,2351.5 C475.4,2358.1 477.4,2363.0 479.9,2368.0 C482.2,2372.6 485.6,2375.6 488.1,2380.4 C491.2,2386.3 494.0,2393.9 496.4,2401.0 C498.8,2408.3 500.5,2415.9 502.5,2423.6 C504.6,2431.7 506.6,2440.3 508.7,2448.4 C510.7,2456.1 512.7,2463.9 514.9,2471.0 C516.9,2477.5 518.5,2484.2 521.1,2489.6 C523.4,2494.3 526.3,2499.6 529.3,2501.9 C531.3,2503.4 533.1,2504.0 535.5,2504.0 C538.9,2504.0 544.3,2501.8 547.9,2499.9 C551.1,2498.2 553.2,2495.7 556.1,2493.7 C559.1,2491.6 562.4,2487.8 565.4,2487.5 C567.9,2487.3 570.4,2489.4 572.6,2490.6 C574.7,2491.8 576.4,2492.9 578.2,2494.7 C580.4,2496.9 582.4,2500.0 584.4,2503.0 C586.5,2506.2 588.2,2510.1 590.6,2513.3 C593.0,2516.6 595.8,2520.2 598.8,2522.5 C601.4,2524.5 603.9,2525.6 607.1,2526.7 C611.2,2528.1 617.1,2529.6 621.5,2529.8 C625.2,2530.0 628.5,2528.0 631.8,2528.7 C635.4,2529.5 639.5,2535.0 642.1,2534.9 C643.8,2534.8 644.2,2532.4 646.2,2531.8 C650.0,2530.6 658.3,2532.2 664.8,2532.8 C672.0,2533.5 681.2,2534.2 687.5,2535.9 C692.3,2537.2 696.6,2538.6 699.8,2541.1 C702.6,2543.3 703.7,2548.8 706.0,2549.3 C707.9,2549.7 710.7,2548.3 712.2,2546.2 C714.9,2542.4 713.3,2525.1 715.3,2524.6 C716.6,2524.3 718.8,2528.6 720.4,2531.8 C722.8,2536.8 724.5,2552.3 726.6,2552.4 C728.3,2552.4 730.4,2538.0 731.8,2538.0 C733.0,2538.0 733.5,2548.3 734.8,2548.3 C736.4,2548.4 738.9,2536.6 741.0,2531.8 C742.7,2527.9 744.6,2521.4 746.2,2521.5 C748.1,2521.7 748.7,2537.1 751.3,2538.0 C753.0,2538.6 755.4,2533.6 757.5,2533.9 C760.2,2534.3 763.0,2543.0 765.8,2543.2 C768.5,2543.4 771.6,2535.3 774.0,2535.9 C777.5,2536.8 778.7,2556.9 782.2,2558.6 C784.0,2559.5 786.7,2555.6 788.4,2556.5 C791.3,2558.0 792.3,2575.2 793.6,2575.1 C795.7,2574.9 793.4,2525.3 796.7,2524.6 C798.6,2524.2 802.6,2540.0 804.9,2540.1 C806.4,2540.2 806.6,2535.3 809.0,2533.9 C813.0,2531.6 823.6,2533.7 829.6,2532.8 C834.3,2532.1 838.2,2531.4 842.0,2529.8 C845.7,2528.3 849.1,2523.4 852.3,2523.6 C855.2,2523.8 858.0,2530.2 860.5,2529.8 C863.3,2529.3 865.7,2518.7 867.8,2519.0 C870.2,2519.3 869.6,2532.5 873.7,2535.7 C878.3,2539.3 887.8,2538.3 895.7,2537.9 C905.0,2537.4 914.9,2533.6 925.9,2531.6 C939.2,2529.2 955.3,2527.2 969.9,2524.7 C984.6,2522.2 1005.0,2515.9 1013.8,2516.5 C1017.7,2516.8 1018.4,2519.0 1022.1,2519.2 C1029.0,2519.5 1042.5,2514.5 1052.3,2512.4 C1061.7,2510.4 1070.6,2508.7 1079.8,2506.9 C1089.0,2505.2 1097.2,2503.6 1107.3,2501.9 C1119.6,2499.9 1140.5,2501.0 1148.5,2495.9 C1153.3,2492.9 1154.0,2483.5 1156.7,2483.5 C1159.4,2483.5 1160.6,2493.7 1164.9,2495.9 C1170.5,2498.7 1181.3,2495.6 1189.7,2494.5 C1198.6,2493.4 1207.5,2490.7 1217.1,2489.0 C1227.5,2487.2 1239.6,2485.9 1250.0,2484.0 C1259.6,2482.2 1268.4,2480.2 1277.5,2478.0 C1286.7,2475.7 1296.3,2473.2 1304.9,2470.5 C1312.7,2468.0 1320.4,2464.7 1326.9,2462.6 C1332.0,2460.9 1336.1,2459.3 1340.7,2458.5 C1345.2,2457.8 1349.7,2457.4 1354.4,2458.0 C1359.7,2458.6 1365.2,2460.7 1370.9,2462.6 C1377.1,2464.7 1384.4,2470.0 1390.1,2470.3 C1394.6,2470.5 1399.2,2465.8 1402.5,2466.7 C1405.4,2467.5 1407.4,2470.8 1409.3,2473.6 C1411.6,2476.9 1412.5,2482.0 1414.8,2485.9 C1417.1,2489.8 1419.5,2494.1 1423.1,2496.9 C1426.8,2499.8 1432.4,2502.7 1436.8,2503.0 C1440.6,2503.2 1444.7,2501.9 1447.8,2499.7 C1451.2,2497.3 1454.2,2488.2 1456.0,2488.7 C1458.2,2489.3 1457.9,2500.9 1458.8,2507.9 C1459.8,2516.2 1457.9,2532.7 1461.5,2535.4 C1463.5,2536.9 1467.6,2532.8 1469.8,2534.0 C1472.7,2535.6 1472.9,2543.7 1475.3,2547.7 C1477.5,2551.4 1479.9,2555.5 1483.5,2557.4 C1487.2,2559.3 1491.2,2558.5 1497.3,2558.7 C1509.5,2559.1 1533.2,2557.8 1552.2,2557.4 C1572.7,2557.0 1616.0,2556.5 1616.0,2556.5" fill="none" stroke="#FF4040" stroke-width="7" stroke-linejoin="round" stroke-linecap="butt"/>
<path d="M32.5,1610.9 C32.5,1610.9 36.3,1617.1 37.5,1621.2 C39.1,1626.8 38.9,1634.9 39.6,1641.8 C40.3,1648.7 40.6,1656.4 41.6,1662.4 C42.4,1667.1 42.5,1673.1 44.7,1674.8 C46.2,1676.0 49.3,1673.8 50.9,1674.8 C52.9,1676.0 53.9,1679.5 55.0,1683.0 C56.7,1688.2 57.1,1696.7 58.1,1703.6 C59.1,1710.5 60.2,1717.3 61.2,1724.2 C62.2,1731.1 63.4,1737.2 64.3,1744.8 C65.5,1754.1 66.0,1766.5 67.4,1775.8 C68.5,1783.4 70.3,1789.5 71.5,1796.4 C72.7,1803.3 73.7,1810.9 74.6,1817.0 C75.4,1821.8 76.1,1824.7 76.7,1830.0 C77.6,1838.1 77.6,1850.1 78.7,1861.2 C79.9,1874.0 82.0,1889.7 83.9,1902.4 C85.5,1913.5 87.3,1923.0 89.0,1933.3 C90.7,1943.6 92.6,1954.5 94.2,1964.2 C95.7,1972.9 96.3,1983.3 98.3,1989.0 C99.5,1992.3 100.4,1994.7 102.4,1996.2 C104.5,1997.8 108.5,1997.0 110.7,1998.2 C112.5,1999.2 112.9,2001.5 114.8,2002.4 C117.3,2003.6 122.3,2002.1 125.1,2003.4 C127.7,2004.6 129.8,2006.7 131.3,2009.6 C133.4,2013.6 133.2,2020.1 134.4,2026.1 C135.9,2033.5 137.8,2043.6 139.5,2050.8 C140.9,2056.5 141.3,2065.1 143.6,2066.0 C145.0,2066.6 147.5,2062.4 148.8,2063.0 C151.1,2064.1 150.2,2075.4 151.9,2080.6 C153.4,2085.2 155.9,2089.4 158.1,2093.0 C160.0,2096.1 161.8,2099.0 164.2,2101.2 C166.6,2103.4 169.9,2106.5 172.5,2106.4 C175.0,2106.3 177.8,2103.8 179.7,2101.2 C182.2,2097.8 183.2,2092.4 184.8,2086.8 C187.0,2079.3 189.6,2068.7 191.0,2060.0 C192.3,2051.9 191.5,2042.1 193.1,2036.4 C194.1,2032.8 195.5,2029.8 197.2,2028.1 C198.4,2026.9 200.2,2027.6 201.3,2026.1 C203.7,2022.9 204.2,2011.5 205.5,2005.5 C206.5,2000.8 206.5,1995.9 208.5,1993.1 C210.0,1991.0 213.1,1991.7 214.7,1989.0 C218.6,1982.2 216.6,1955.6 217.8,1943.6 C218.6,1935.7 219.3,1924.1 220.3,1924.1 C221.4,1924.1 222.9,1938.2 224.0,1947.8 C225.7,1962.4 225.0,2003.0 228.1,2003.4 C230.1,2003.7 233.8,1989.8 236.4,1980.7 C240.1,1967.9 243.9,1949.0 246.7,1933.3 C249.4,1918.1 250.8,1899.7 252.8,1888.0 C254.1,1880.4 255.2,1869.5 256.6,1869.5 C258.0,1869.5 259.6,1880.8 261.1,1888.0 C263.2,1897.8 265.0,1910.9 267.3,1923.0 C269.8,1936.2 273.1,1950.4 275.5,1964.2 C277.9,1977.9 279.8,1990.2 281.7,2005.5 C284.1,2024.6 286.3,2049.8 288.2,2070.0 C289.8,2088.0 290.8,2106.1 292.4,2120.9 C293.6,2132.5 295.1,2141.5 296.5,2151.8 C297.9,2162.1 298.8,2172.8 300.6,2182.7 C302.3,2192.0 304.2,2201.7 306.8,2209.5 C308.9,2215.8 310.9,2225.0 314.0,2226.0 C316.1,2226.7 319.0,2223.9 321.2,2221.9 C323.9,2219.4 326.2,2211.4 328.4,2211.6 C330.7,2211.8 333.0,2218.8 334.6,2224.0 C337.0,2231.8 337.5,2244.9 338.7,2254.8 C339.8,2264.0 340.1,2274.8 341.8,2281.6 C342.9,2286.0 344.4,2289.1 346.0,2292.0 C347.3,2294.4 348.9,2295.4 350.1,2298.0 C351.9,2301.9 352.5,2308.7 354.2,2314.0 C355.9,2319.4 357.8,2325.3 360.4,2330.0 C362.7,2334.2 365.2,2339.0 368.6,2341.2 C371.5,2343.1 375.2,2343.7 378.9,2343.3 C383.4,2342.8 388.9,2340.1 393.3,2337.1 C397.9,2334.0 402.1,2329.6 405.7,2324.7 C409.7,2319.3 412.8,2312.9 416.0,2306.0 C419.7,2298.1 423.9,2288.4 426.3,2279.6 C428.6,2271.3 429.1,2263.5 430.4,2254.8 C431.8,2245.1 433.3,2234.2 434.5,2223.9 C435.7,2213.6 436.5,2202.7 437.6,2193.0 C438.6,2184.3 438.7,2173.7 440.7,2168.3 C441.8,2165.4 443.4,2164.7 444.8,2162.1 C446.8,2158.4 449.2,2152.4 451.0,2147.7 C452.6,2143.4 453.9,2140.4 455.1,2135.3 C456.9,2127.8 457.2,2113.1 459.3,2106.5 C460.5,2102.8 462.0,2098.3 463.4,2098.2 C464.6,2098.1 466.1,2101.3 467.0,2104.0 C468.7,2108.7 468.8,2118.1 469.6,2125.0 C470.4,2131.7 471.1,2138.8 472.0,2145.0 C472.8,2150.4 473.2,2154.8 474.7,2160.0 C476.4,2165.9 479.6,2172.6 481.9,2178.6 C484.1,2184.3 486.3,2190.0 488.1,2195.1 C489.7,2199.5 491.0,2203.4 492.2,2207.5 C493.3,2211.4 494.0,2214.9 495.0,2219.0 C496.1,2223.7 497.1,2228.2 498.4,2234.2 C500.2,2242.7 502.5,2255.2 504.6,2265.1 C506.6,2274.4 508.7,2283.1 510.8,2292.0 C512.9,2300.7 514.8,2310.0 517.0,2318.0 C518.9,2324.9 520.3,2331.9 523.1,2337.1 C525.4,2341.3 528.2,2345.9 531.4,2347.4 C533.9,2348.6 536.9,2348.0 539.6,2347.4 C542.4,2346.7 545.1,2345.3 547.9,2343.3 C551.4,2340.8 554.7,2335.0 558.2,2333.0 C560.9,2331.5 563.8,2330.4 566.4,2330.9 C569.3,2331.5 572.4,2336.2 574.7,2337.1 C576.0,2337.6 577.0,2336.7 578.2,2337.4 C580.2,2338.5 582.5,2342.5 584.4,2345.6 C586.6,2349.2 588.2,2354.2 590.6,2358.0 C593.0,2361.7 595.9,2365.5 598.8,2368.3 C601.4,2370.8 603.8,2372.9 607.1,2374.5 C611.1,2376.5 617.1,2378.4 621.5,2378.6 C625.2,2378.7 628.5,2375.7 631.8,2376.5 C635.5,2377.4 639.5,2384.9 642.1,2384.8 C643.8,2384.7 644.1,2381.5 646.2,2380.7 C650.0,2379.2 658.3,2381.1 664.8,2381.7 C672.0,2382.4 682.1,2382.3 687.5,2384.8 C691.2,2386.5 693.5,2392.2 695.7,2392.0 C697.4,2391.8 698.4,2386.7 699.8,2386.8 C701.7,2386.9 703.6,2396.6 706.0,2397.1 C707.9,2397.5 710.7,2395.4 712.2,2393.0 C714.9,2388.7 713.5,2370.7 715.3,2370.4 C716.6,2370.2 718.8,2376.7 720.4,2380.7 C722.6,2386.1 724.5,2400.1 726.6,2400.2 C728.3,2400.3 730.4,2386.7 731.8,2386.8 C733.0,2386.9 733.3,2396.9 734.8,2397.1 C736.3,2397.3 739.2,2390.8 741.0,2386.8 C743.2,2381.9 744.5,2369.3 746.2,2369.3 C747.9,2369.3 748.8,2386.2 751.3,2386.8 C753.0,2387.2 755.4,2380.6 757.5,2380.7 C760.1,2380.9 763.6,2391.1 765.8,2391.0 C767.5,2390.9 768.1,2385.8 769.9,2384.8 C771.6,2383.9 774.4,2383.5 776.1,2384.8 C779.6,2387.5 778.8,2407.6 782.2,2409.5 C783.9,2410.5 786.7,2406.6 788.4,2407.5 C791.2,2409.0 792.3,2425.2 793.6,2425.0 C796.0,2424.7 795.0,2365.3 796.7,2365.2 C797.8,2365.1 798.1,2390.4 800.8,2391.0 C802.8,2391.4 805.8,2379.5 809.0,2378.6 C811.5,2377.9 814.2,2382.2 817.3,2382.7 C820.9,2383.2 826.7,2379.8 829.6,2380.7 C831.6,2381.3 832.1,2384.7 833.8,2384.8 C836.0,2384.9 839.1,2380.8 842.0,2378.6 C845.3,2376.1 849.0,2370.5 852.3,2370.4 C855.2,2370.4 858.1,2376.9 860.5,2376.5 C863.0,2376.1 865.1,2367.2 867.0,2367.5 C869.3,2367.8 869.3,2380.1 872.4,2383.2 C874.8,2385.6 878.2,2385.9 882.0,2386.5 C887.2,2387.3 894.5,2386.9 901.2,2386.0 C909.0,2384.9 919.3,2380.0 925.9,2379.7 C930.3,2379.5 932.3,2381.5 936.9,2381.3 C945.0,2381.0 959.5,2377.0 969.9,2374.2 C979.6,2371.6 989.4,2367.5 997.4,2365.4 C1003.5,2363.8 1009.4,2361.4 1013.8,2362.1 C1017.2,2362.6 1018.3,2366.3 1022.1,2366.8 C1028.9,2367.7 1042.5,2361.4 1052.3,2359.1 C1061.7,2356.9 1070.6,2354.9 1079.8,2353.0 C1089.0,2351.1 1100.2,2349.1 1107.3,2347.5 C1111.8,2346.5 1113.6,2345.7 1118.2,2344.8 C1125.7,2343.4 1142.1,2345.3 1148.5,2340.7 C1153.5,2337.1 1153.9,2324.3 1156.7,2324.2 C1159.4,2324.2 1160.3,2336.7 1164.9,2339.3 C1170.4,2342.5 1181.3,2339.6 1189.7,2338.5 C1198.7,2337.4 1207.6,2334.5 1217.1,2332.4 C1227.6,2330.1 1239.5,2327.3 1250.0,2325.0 C1259.6,2322.9 1268.5,2321.8 1277.5,2319.0 C1286.8,2316.2 1296.3,2311.8 1304.9,2308.0 C1312.7,2304.5 1320.0,2299.6 1326.9,2297.0 C1332.7,2294.9 1338.8,2293.5 1343.4,2292.9 C1346.6,2292.5 1348.4,2292.5 1351.6,2292.9 C1356.2,2293.5 1363.0,2294.9 1368.1,2297.0 C1373.1,2299.0 1377.9,2303.0 1381.9,2305.2 C1385.0,2306.9 1387.0,2309.1 1390.1,2309.3 C1393.8,2309.6 1399.2,2304.4 1402.5,2305.2 C1405.4,2305.9 1407.4,2309.2 1409.3,2312.1 C1411.7,2315.7 1412.6,2321.3 1414.8,2325.8 C1417.1,2330.5 1419.7,2335.9 1423.1,2339.6 C1426.2,2343.1 1430.0,2346.9 1434.1,2347.8 C1438.2,2348.7 1444.1,2347.3 1447.8,2345.1 C1451.3,2343.0 1454.1,2334.9 1456.0,2335.4 C1458.4,2336.1 1457.9,2348.6 1458.8,2356.0 C1459.8,2364.5 1457.9,2380.8 1461.5,2383.5 C1463.5,2385.0 1467.6,2380.8 1469.8,2382.1 C1472.8,2383.8 1472.8,2393.0 1475.3,2397.3 C1477.5,2401.1 1480.0,2405.1 1483.5,2406.9 C1487.2,2408.8 1491.9,2408.1 1497.3,2408.2 C1504.9,2408.4 1514.0,2407.3 1524.7,2406.9 C1539.9,2406.3 1563.3,2405.6 1579.7,2405.5 C1593.1,2405.4 1616.0,2406.0 1616.0,2406.0" fill="none" stroke="#0070E0" stroke-width="7" stroke-linejoin="round" stroke-linecap="butt"/>
<line x1="218.4" y1="1960" x2="218.4" y2="2272" stroke="#000" stroke-width="7" stroke-dasharray="30 26.8" stroke-dashoffset="0"/>
<line x1="256.6" y1="1876.5" x2="256.6" y2="2190" stroke="#000" stroke-width="7" stroke-dasharray="30 26.8" stroke-dashoffset="0"/>
<line x1="461.3" y1="2102.4" x2="461.3" y2="2470" stroke="#000" stroke-width="7" stroke-dasharray="30 26.8" stroke-dashoffset="0"/>
<line x1="568.5" y1="2330.9" x2="568.5" y2="2642" stroke="#000" stroke-width="7" stroke-dasharray="30 26.8" stroke-dashoffset="0"/>
<line x1="1344.8" y1="2295.6" x2="1344.8" y2="2607" stroke="#000" stroke-width="7" stroke-dasharray="30 26.8" stroke-dashoffset="0"/>
<text x="0" y="0" transform="translate(236.0,1916.7) rotate(-90) scale(0.954,1)" font-family="'Liberation Serif','Times New Roman',serif" font-size="56">874</text>
<text x="0" y="0" transform="translate(269.9,1857.5) rotate(-90) scale(1.006,1)" font-family="'Liberation Serif','Times New Roman',serif" font-size="56">949</text>
<text x="0" y="0" transform="translate(476.8,2080.7) rotate(-90) scale(0.971,1)" font-family="'Liberation Serif','Times New Roman',serif" font-size="56">1410</text>
<text x="0" y="0" transform="translate(585.1,2314.0) rotate(-90) scale(0.973,1)" font-family="'Liberation Serif','Times New Roman',serif" font-size="56">1648</text>
<text x="0" y="0" transform="translate(1366.8,2272.7) rotate(-90) scale(1.052,1)" font-family="'Liberation Serif','Times New Roman',serif" font-size="56">3398</text>
<line x1="55.0" y1="2758.0" x2="55.0" y2="2778.5" stroke="#000" stroke-width="5"/>
<text x="55.0" y="2838" text-anchor="middle" font-family="'Liberation Serif','Times New Roman',serif" font-size="56">500</text>
<line x1="166.5" y1="2758.0" x2="166.5" y2="2767.0" stroke="#000" stroke-width="5"/>
<line x1="278.0" y1="2758.0" x2="278.0" y2="2778.5" stroke="#000" stroke-width="5"/>
<text x="278.0" y="2838" text-anchor="middle" font-family="'Liberation Serif','Times New Roman',serif" font-size="56">1000</text>
<line x1="389.5" y1="2758.0" x2="389.5" y2="2767.0" stroke="#000" stroke-width="5"/>
<line x1="501.0" y1="2758.0" x2="501.0" y2="2778.5" stroke="#000" stroke-width="5"/>
<text x="501.0" y="2838" text-anchor="middle" font-family="'Liberation Serif','Times New Roman',serif" font-size="56">1500</text>
<line x1="612.5" y1="2758.0" x2="612.5" y2="2767.0" stroke="#000" stroke-width="5"/>
<line x1="724.0" y1="2758.0" x2="724.0" y2="2778.5" stroke="#000" stroke-width="5"/>
<text x="724.0" y="2838" text-anchor="middle" font-family="'Liberation Serif','Times New Roman',serif" font-size="56">2000</text>
<line x1="835.5" y1="2758.0" x2="835.5" y2="2767.0" stroke="#000" stroke-width="5"/>
<line x1="947.0" y1="2758.0" x2="947.0" y2="2778.5" stroke="#000" stroke-width="5"/>
<text x="947.0" y="2838" text-anchor="middle" font-family="'Liberation Serif','Times New Roman',serif" font-size="56">2500</text>
<line x1="1058.5" y1="2758.0" x2="1058.5" y2="2767.0" stroke="#000" stroke-width="5"/>
<line x1="1170.0" y1="2758.0" x2="1170.0" y2="2778.5" stroke="#000" stroke-width="5"/>
<text x="1170.0" y="2838" text-anchor="middle" font-family="'Liberation Serif','Times New Roman',serif" font-size="56">3000</text>
<line x1="1281.5" y1="2758.0" x2="1281.5" y2="2767.0" stroke="#000" stroke-width="5"/>
<line x1="1393.0" y1="2758.0" x2="1393.0" y2="2778.5" stroke="#000" stroke-width="5"/>
<text x="1393.0" y="2838" text-anchor="middle" font-family="'Liberation Serif','Times New Roman',serif" font-size="56">3500</text>
<line x1="1504.5" y1="2758.0" x2="1504.5" y2="2767.0" stroke="#000" stroke-width="5"/>
<line x1="1616.0" y1="2758.0" x2="1616.0" y2="2778.5" stroke="#000" stroke-width="5"/>
<text x="1616.0" y="2838" text-anchor="middle" font-family="'Liberation Serif','Times New Roman',serif" font-size="56">4000</text>
<text x="0" y="0" transform="translate(600.4,2929.9) scale(0.9,1)" font-family="'Liberation Serif','Times New Roman',serif" font-size="64" font-weight="bold" letter-spacing="2.6">Wavenumbers (cm<tspan font-size="63" dy="-24.7">-1</tspan><tspan dy="24.7">)</tspan></text>
<text x="49.6" y="1586.2" font-family="'Liberation Serif','Times New Roman',serif" font-size="67" font-weight="bold">(b)</text>
<rect x="1255.7" y="1561.9" width="311.70000000000005" height="234.39999999999986" fill="#fff" stroke="#000" stroke-width="2.8"/>
<line x1="1263.3" y1="1603.6" x2="1398.5" y2="1603.6" stroke="#737373" stroke-width="7" stroke-linecap="round"/>
<text x="1412.4" y="1625.3" font-family="'Liberation Serif','Times New Roman',serif" font-size="61">ES0</text>
<line x1="1263.3" y1="1679.7" x2="1398.5" y2="1679.7" stroke="#FF4040" stroke-width="7" stroke-linecap="round"/>
<text x="1412.4" y="1701.2" font-family="'Liberation Serif','Times New Roman',serif" font-size="61">ES7.5</text>
<line x1="1263.3" y1="1754.6" x2="1398.5" y2="1754.6" stroke="#0070E0" stroke-width="7" stroke-linecap="round"/>
<text x="1412.4" y="1775.4" font-family="'Liberation Serif','Times New Roman',serif" font-size="61">ES15</text>
</svg>
</body></html>
